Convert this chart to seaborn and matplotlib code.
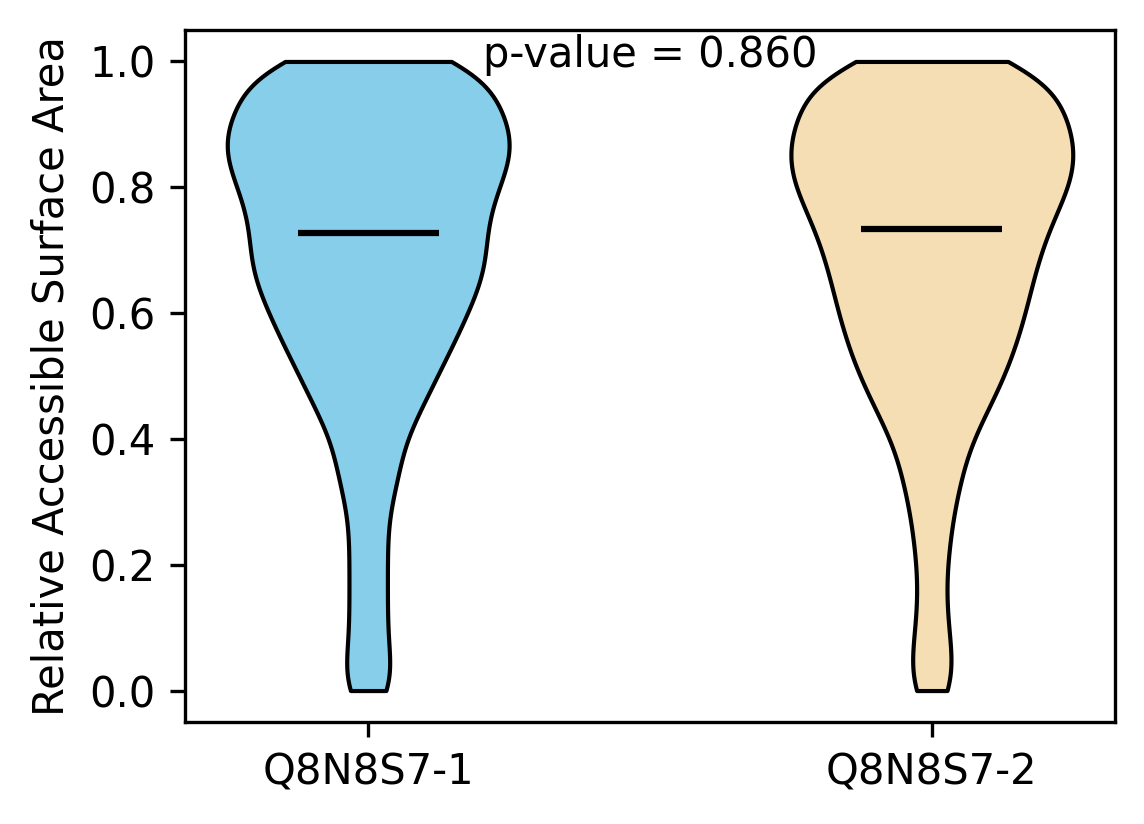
import numpy as np
import pandas as pd
import matplotlib
matplotlib.use("Agg")
import matplotlib.pyplot as plt
import seaborn as sns

# ---- data (relative accessible surface area per residue) ----
labels = ["Q8N8S7-1", "Q8N8S7-2"]

rsa_iso1 = [
    0.00, 0.00, 0.01, 0.02, 0.04,
    0.06, 0.08, 0.10, 0.12, 0.14, 0.16, 0.18, 0.20, 0.22, 0.24, 0.26, 0.28, 0.30,
    0.32, 0.33, 0.34,
    0.352, 0.364, 0.376, 0.388,
    0.404, 0.412, 0.420, 0.428, 0.436, 0.445,
    0.453, 0.459, 0.465, 0.471, 0.477, 0.483, 0.489, 0.496,
    0.502, 0.507, 0.512, 0.517, 0.522, 0.527, 0.532, 0.537, 0.542, 0.547,
    0.552, 0.556, 0.560, 0.564, 0.568, 0.572, 0.576, 0.580, 0.584, 0.588, 0.592, 0.596,
    0.602, 0.605, 0.609, 0.612, 0.616, 0.619, 0.623, 0.626, 0.630, 0.633, 0.637, 0.640,
    0.644, 0.647,
    0.652, 0.655, 0.658, 0.661, 0.664, 0.667, 0.670, 0.673, 0.677, 0.680, 0.683, 0.686,
    0.689, 0.692, 0.695, 0.698,
    0.702, 0.705, 0.708, 0.712, 0.715, 0.718, 0.722, 0.725, 0.728, 0.732, 0.735, 0.738,
    0.742, 0.745, 0.748,
    0.752, 0.755, 0.758, 0.761, 0.764, 0.767, 0.770, 0.773, 0.777, 0.780, 0.783, 0.786,
    0.789, 0.792, 0.795, 0.798,
    0.801, 0.804, 0.807, 0.810, 0.812, 0.815, 0.818, 0.821, 0.824, 0.826, 0.829, 0.832,
    0.835, 0.838, 0.840, 0.843, 0.846, 0.849,
    0.851, 0.854, 0.856, 0.859, 0.861, 0.864, 0.866, 0.869, 0.871, 0.874, 0.876, 0.879,
    0.881, 0.884, 0.886, 0.889, 0.891, 0.894, 0.896, 0.899,
    0.901, 0.904, 0.907, 0.910, 0.913, 0.916, 0.919, 0.922, 0.925, 0.928, 0.931, 0.934,
    0.937, 0.940, 0.943, 0.946, 0.949,
    0.952, 0.955, 0.958, 0.962, 0.965, 0.968, 0.972, 0.975, 0.978, 0.982, 0.985, 0.988,
    0.992, 0.995, 0.998,
    1.00, 1.00, 1.00, 1.00, 1.00, 1.00, 1.00,
]

rsa_iso2 = [
    0.00, 0.00, 0.02, 0.04,
    0.06, 0.08, 0.105, 0.13, 0.16, 0.19, 0.215, 0.24, 0.26, 0.28, 0.30,
    0.315, 0.33, 0.345,
    0.355, 0.368, 0.381, 0.394,
    0.404, 0.412, 0.420, 0.429, 0.437, 0.446,
    0.453, 0.459, 0.465, 0.471, 0.477, 0.483, 0.489, 0.496,
    0.502, 0.507, 0.512, 0.517, 0.522, 0.527, 0.532, 0.537, 0.542, 0.547,
    0.552, 0.557, 0.561, 0.566, 0.570, 0.575, 0.580, 0.584, 0.589, 0.593, 0.598,
    0.602, 0.606, 0.610, 0.614, 0.618, 0.622, 0.627, 0.631, 0.635, 0.639, 0.643, 0.647,
    0.652, 0.656, 0.660, 0.664, 0.667, 0.671, 0.675, 0.679, 0.683, 0.687, 0.690, 0.694,
    0.698,
    0.702, 0.705, 0.709, 0.712, 0.716, 0.720, 0.723, 0.727, 0.730, 0.734, 0.737, 0.741,
    0.745, 0.748,
    0.752, 0.755, 0.758, 0.761, 0.764, 0.767, 0.770, 0.773, 0.777, 0.780, 0.783, 0.786,
    0.789, 0.792, 0.795, 0.798,
    0.801, 0.804, 0.807, 0.810, 0.812, 0.815, 0.818, 0.821, 0.824, 0.826, 0.829, 0.832,
    0.835, 0.838, 0.840, 0.843, 0.846, 0.849,
    0.851, 0.854, 0.857, 0.860, 0.862, 0.865, 0.868, 0.871, 0.874, 0.876, 0.879, 0.882,
    0.885, 0.888, 0.890, 0.893, 0.896, 0.899,
    0.902, 0.905, 0.908, 0.911, 0.914, 0.917, 0.920, 0.923, 0.927, 0.930, 0.933, 0.936,
    0.939, 0.942, 0.945, 0.948,
    0.952, 0.955, 0.958, 0.962, 0.965, 0.968, 0.972, 0.975, 0.978, 0.982, 0.985, 0.988,
    0.992, 0.995, 0.998,
    1.00, 1.00, 1.00, 1.00,
]

p_value = 0.860
colors = ["#87CEEB", "#F5DEB3"]

df = pd.DataFrame({
    "isoform": [labels[0]] * len(rsa_iso1) + [labels[1]] * len(rsa_iso2),
    "rsa": rsa_iso1 + rsa_iso2,
})

fig = plt.figure(figsize=(1144 / 300, 824 / 300), dpi=300)
ax = fig.add_axes([185 / 1144, 1 - 722 / 824, 930 / 1144, 692 / 824])

sns.violinplot(data=df, x="isoform", y="rsa", hue="isoform", order=labels,
               hue_order=labels, palette=colors, saturation=1, cut=0,
               inner=None, width=0.5, density_norm="width",
               bw_method="scott", bw_adjust=0.55, gridsize=200,
               linecolor="black", linewidth=1.0, legend=False, ax=ax)

# central line of each violin
for i, vals in enumerate([rsa_iso1, rsa_iso2]):
    c = float(np.median(vals))
    ax.hlines(c, i - 0.125, i + 0.125, color="black", linewidth=1.5, zorder=5)

ax.set_xlim(-0.325, 1.325)
ax.set_ylim(-0.05, 1.05)
ax.set_yticks([0.0, 0.2, 0.4, 0.6, 0.8, 1.0])
ax.set_xlabel("")
ax.set_ylabel("Relative Accessible Surface Area", fontsize=10)
ax.tick_params(labelsize=10)
ax.text(0.5, 1.0095, f"p-value = {p_value:.3f}", ha="center", va="center",
        fontsize=10)

fig.savefig("out.png", dpi=300)
